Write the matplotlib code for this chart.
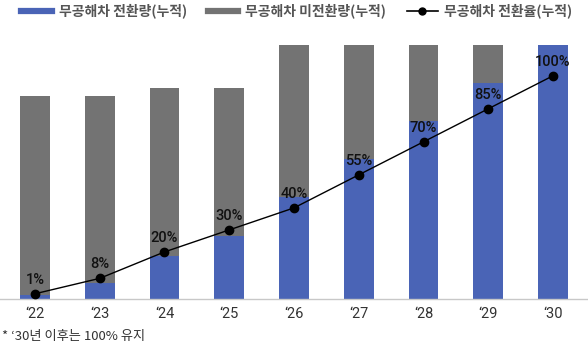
import matplotlib.pyplot as plt
from matplotlib.lines import Line2D

plt.rcParams['font.family'] = ['Noto Sans CJK KR', 'DejaVu Sans']

years = ['‘22', '‘23', '‘24', '‘25', '‘26', '‘27', '‘28', '‘29', '‘30']
converted = [0.15, 0.65, 1.7, 2.5, 4.0, 5.5, 7.0, 8.5, 10.0]
unconverted = [7.85, 7.35, 6.6, 5.8, 6.0, 4.5, 3.0, 1.5, 0.0]
rate = [1, 8, 20, 30, 40, 55, 70, 85, 100]

blue = '#4a64b6'
gray = '#737373'

fig = plt.figure(figsize=(5.88, 3.51), dpi=100)
ax = fig.add_axes([0, 0.148, 1, 0.724])
x = range(len(years))

ax.bar(x, converted, width=0.46, color=blue)
ax.bar(x, unconverted, width=0.46, bottom=converted, color=gray)
ax.set_xlim(-0.54, 8.54)
ax.set_ylim(0, 10)
ax.set_yticks([])
ax.set_xticks(list(x))
ax.set_xticklabels(years, fontsize=10.5, color='#333333', family=['Roboto', 'DejaVu Sans'])
ax.tick_params(axis='x', length=0, pad=6)
for s in ['top', 'left', 'right']:
    ax.spines[s].set_visible(False)
ax.spines['bottom'].set_color('#c8c8c8')
ax.spines['bottom'].set_linewidth(1)

# conversion rate line on a second scale
ax2 = ax.twinx()
ax2.plot(x, rate, color='black', lw=1, marker='o', markersize=6)
ax2.set_ylim(-1.4, 114)
ax2.axis('off')
for i, r in zip(x, rate):
    ax2.annotate(f'{r}%', (i, r), xytext=(0, 5), textcoords='offset points',
                 ha='center', va='bottom', fontsize=10.5, fontweight='medium',
                 color='#111111', family=['Roboto', 'DejaVu Sans'])

handles = [Line2D([], [], color=blue, lw=4.5),
           Line2D([], [], color=gray, lw=4.5),
           Line2D([], [], color='black', lw=1.2, marker='o', markersize=5)]
labels = ['무공해차 전환량(누적)', '무공해차 미전환량(누적)', '무공해차 전환율(누적)']
leg = fig.legend(handles, labels, loc='upper left', bbox_to_anchor=(0.015, 1.025), ncol=3,
                 frameon=False, fontsize=10, handlelength=2.2, handletextpad=0.5,
                 columnspacing=1.5, labelcolor='#555555')
for t in leg.get_texts():
    t.set_fontweight('bold')

fig.text(0.003, 0.03, '* ‘30년 이후는 100% 유지', fontsize=9.5, color='#333333')

fig.savefig('out.png', dpi=100)
